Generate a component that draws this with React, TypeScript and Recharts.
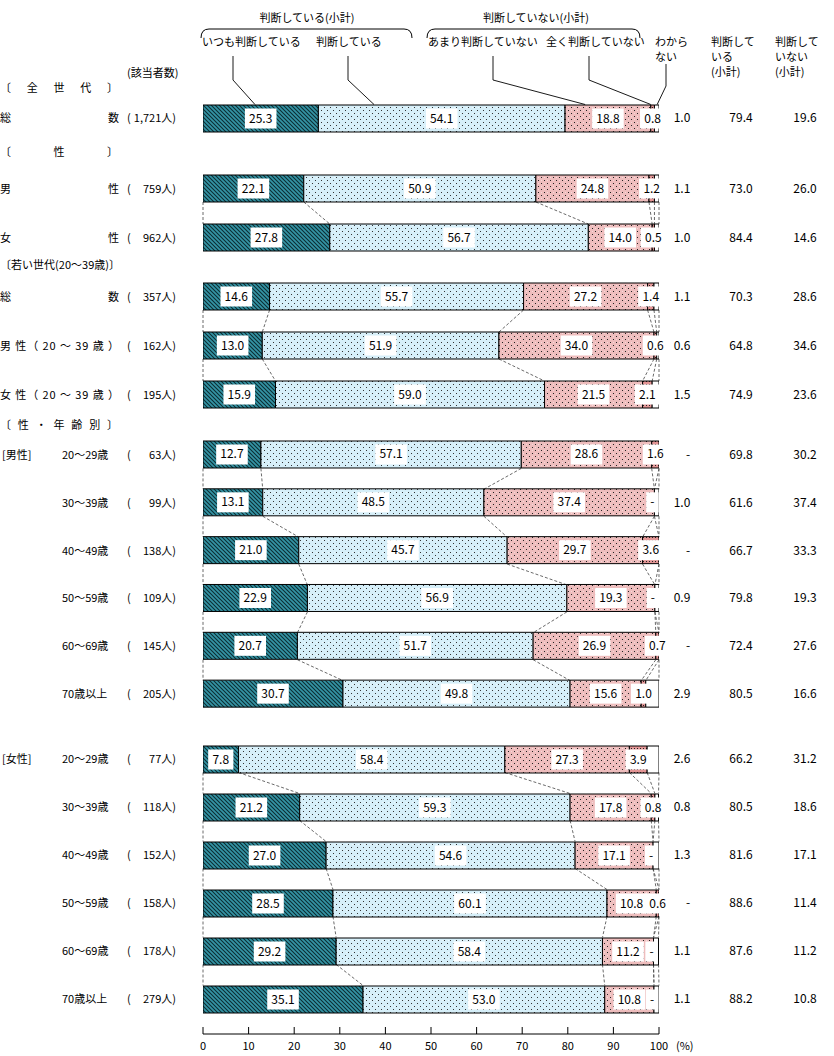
import React from 'react';
import * as R from 'recharts';

const { BarChart, Bar, XAxis, YAxis, LabelList } = R;
// plot area hook (recharts 3); fall back to the known layout if missing
const usePlot: () => any = (R as any).usePlotArea || (() => null);

const FONT = "'Noto Sans CJK JP', 'Noto Sans CJK SC', sans-serif";
const FS = 11;
const PLOT_LEFT = 203;
const PLOT_W = 456;
const BAR = 27;

// ---- data ----
const rowLabels = [
  '総数', '男性', '女性',
  '総数', '男 性（ 20 ～ 39 歳 ）', '女 性（ 20 ～ 39 歳 ）',
  '20～29歳', '30～39歳', '40～49歳', '50～59歳', '60～69歳', '70歳以上',
  '20～29歳', '30～39歳', '40～49歳', '50～59歳', '60～69歳', '70歳以上',
];
const counts = ['1,721', '759', '962', '357', '162', '195', '63', '99', '138', '109', '145', '205', '77', '118', '152', '158', '178', '279'];
const itsumo = [25.3, 22.1, 27.8, 14.6, 13.0, 15.9, 12.7, 13.1, 21.0, 22.9, 20.7, 30.7, 7.8, 21.2, 27.0, 28.5, 29.2, 35.1];
const handan = [54.1, 50.9, 56.7, 55.7, 51.9, 59.0, 57.1, 48.5, 45.7, 56.9, 51.7, 49.8, 58.4, 59.3, 54.6, 60.1, 58.4, 53.0];
const amari = [18.8, 24.8, 14.0, 27.2, 34.0, 21.5, 28.6, 37.4, 29.7, 19.3, 26.9, 15.6, 27.3, 17.8, 17.1, 10.8, 11.2, 10.8];
const mattaku = [0.8, 1.2, 0.5, 1.4, 0.6, 2.1, 1.6, 0, 3.6, 0, 0.7, 1.0, 3.9, 0.8, 0, 0.6, 0, 0];
const wakaranai = [1.0, 1.1, 1.0, 1.1, 0.6, 1.5, 0, 1.0, 0, 0.9, 0, 2.9, 2.6, 0.8, 1.3, 0, 1.1, 1.1];
const subYes = [79.4, 73.0, 84.4, 70.3, 64.8, 74.9, 69.8, 61.6, 66.7, 79.8, 72.4, 80.5, 66.2, 80.5, 81.6, 88.6, 87.6, 88.2];
const subNo = [19.6, 26.0, 14.6, 28.6, 34.6, 23.6, 30.2, 37.4, 33.3, 19.3, 27.6, 16.6, 31.2, 18.6, 17.1, 11.4, 11.2, 10.8];

const groupStarts = [0, 1, 3, 6, 12, 18];
const sectionHeaders = ['〔全世代〕', '〔性〕', '〔若い世代(20～39歳)〕', '〔性・年齢別〕'];
const tagRows = [6, 12];
const tagTexts = ['[男性]', '[女性]'];
const xTicks = [0, 10, 20, 30, 40, 50, 60, 70, 80, 90, 100];

// ---- layout ----
const GROUP_TOP = [94, 164, 272, 431, 735];
const GROUP_BAND = [48, 49, 49, 47.83, 48];
const HEADER_Y = [88, 152, 265, 425];
const HEADER_W = [118, 118, 120, 118];

const SERIES = [
  { key: 'itsumo', fill: 'url(#pHatch)', label: true },
  { key: 'handan', fill: 'url(#pBlue)', label: true },
  { key: 'amari', fill: 'url(#pPink)', label: true },
  { key: 'mattaku', fill: 'url(#pRed)', label: true },
  { key: 'wakaranai', fill: '#ffffff', label: false },
];

const groups = GROUP_TOP.map((top, g) => {
  const rows = [];
  for (let i = groupStarts[g]; i < groupStarts[g + 1]; i++) {
    rows.push({
      key: String(i),
      itsumo: itsumo[i],
      handan: handan[i],
      amari: amari[i],
      mattaku: mattaku[i],
      wakaranai: wakaranai[i],
    });
  }
  return { top, band: GROUP_BAND[g], rows };
});

const fmt = (v: number) => (v === 0 ? '-' : v.toFixed(1));
const txt = { fontFamily: FONT, fontSize: FS, fill: '#000' };
const num = { fontFamily: FONT, fontSize: 12, fill: '#000' };

const ValueBox = ({ cx, cy, value }: { cx: number; cy: number; value: number }) => {
  const s = fmt(value);
  const w = s.length * 6.4 + 6;
  return (
    <g>
      <rect x={cx - w / 2} y={cy - 10} width={w} height={20} fill="#fff" />
      <text x={cx} y={cy + 4} textAnchor="middle" style={num}>{s}</text>
    </g>
  );
};

// label for a segment; also puts a "-" box at its right end when the next
// labelled series is zero there (zero-width bars get no label of their own)
const makeSegLabel = (rows: any[], nextKey: string | null) => (props: any) => {
  const { x, y, width, height, value, index } = props;
  const cy = Number(y) + Number(height) / 2;
  const end = Number(x) + Number(width);
  const nextZero = nextKey && rows[index] && rows[index][nextKey] === 0;
  return (
    <g>
      <ValueBox cx={Number(x) + Number(width) / 2} cy={cy} value={Number(value)} />
      {nextZero && <ValueBox cx={end - 2} cy={cy} value={0} />}
    </g>
  );
};

const LeftTick = (props: any) => {
  const { y, payload } = props;
  const i = Number(payload.value);
  const t = tagRows.indexOf(i);
  return (
    <g>
      {i < 6 ? (
        <text x={0} y={y + 4} textLength={119} lengthAdjust="spacing" style={txt}>{rowLabels[i]}</text>
      ) : (
        <text x={62} y={y + 4} style={txt}>{rowLabels[i]}</text>
      )}
      {t >= 0 && <text x={2} y={y + 4} style={txt}>{tagTexts[t]}</text>}
      <text x={127} y={y + 4} style={txt}>(</text>
      <text x={176} y={y + 4} textAnchor="end" style={txt}>{counts[i] + '人)'}</text>
    </g>
  );
};

const RightTick = (props: any) => {
  const { y, payload } = props;
  const i = Number(payload.value);
  return (
    <g>
      <text x={wakaranai[i] === 0 ? 688 : 682} y={y + 4} textAnchor="middle" style={num}>{fmt(wakaranai[i])}</text>
      <text x={741} y={y + 4} textAnchor="middle" style={num}>{fmt(subYes[i])}</text>
      <text x={805} y={y + 4} textAnchor="middle" style={num}>{fmt(subNo[i])}</text>
    </g>
  );
};

const AxisTick = (props: any) => {
  const { x, y, payload } = props;
  return (
    <g>
      <line x1={x} x2={x} y1={y + 4} y2={y + 11} stroke="#000" />
      <text x={x} y={y + 27} textAnchor="middle" style={txt}>{payload.value}</text>
      {payload.value === 100 && <text x={x + 17} y={y + 27} style={txt}>(%)</text>}
    </g>
  );
};

const bounds = (r: any) => {
  const out = [0];
  let acc = 0;
  SERIES.forEach((s) => {
    acc += r[s.key];
    out.push(Math.min(acc, 100));
  });
  return out;
};

// dashed connectors between neighbouring bars, bottom axis line
const Connectors = ({ rows, plotH, axis }: { rows: any[]; plotH: number; axis: boolean }) => {
  const p = usePlot();
  const left = p ? (p.x ?? p.left) : PLOT_LEFT;
  const top = p ? (p.y ?? p.top) : 0;
  const width = p ? p.width : PLOT_W;
  const height = p ? p.height : plotH;
  const band = height / rows.length;
  const toX = (v: number) => left + (v / 100) * width;
  const lines = [];
  for (let k = 0; k < rows.length - 1; k++) {
    const a = bounds(rows[k]);
    const b = bounds(rows[k + 1]);
    const y1 = top + band * (k + 0.5) + BAR / 2;
    const y2 = top + band * (k + 1.5) - BAR / 2;
    a.forEach((v, j) => {
      lines.push(
        <line key={`${k}-${j}`} x1={toX(v)} y1={y1} x2={toX(b[j])} y2={y2} stroke="#444" strokeWidth={0.8} strokeDasharray="3 2" />
      );
    });
  }
  return (
    <g>
      {lines}
      {axis && <line x1={left} x2={left + width} y1={top + height + 11} y2={top + height + 11} stroke="#000" />}
    </g>
  );
};

const GroupChart = ({ g }: { g: number }) => {
  const { top, band, rows } = groups[g];
  const last = g === groups.length - 1;
  const plotH = band * rows.length;
  const h = plotH + (last ? 40 : 0);
  return (
    <div style={{ position: 'absolute', left: 0, top }}>
      <BarChart width={834} height={h} data={rows} layout="vertical" margin={{ top: 0, right: 0, bottom: 0, left: 0 }}>
        <XAxis
          type="number"
          domain={[0, 100]}
          allowDataOverflow
          ticks={xTicks}
          interval={0}
          hide={!last}
          height={40}
          axisLine={false}
          tickLine={false}
          tickSize={0}
          tickMargin={0}
          tick={AxisTick}
        />
        <YAxis yAxisId="l" type="category" dataKey="key" width={203} axisLine={false} tickLine={false} tickSize={0} tickMargin={0} interval={0} tick={LeftTick} />
        <YAxis yAxisId="r" orientation="right" type="category" dataKey="key" width={175} axisLine={false} tickLine={false} tickSize={0} tickMargin={0} interval={0} tick={RightTick} />
        {SERIES.map((s, j) => {
          const next = SERIES[j + 1] && SERIES[j + 1].label ? SERIES[j + 1].key : null;
          return (
            <Bar key={s.key} yAxisId="l" dataKey={s.key} stackId="s" fill={s.fill} stroke="#000" strokeWidth={1} barSize={BAR} isAnimationActive={false}>
              {s.label && <LabelList dataKey={s.key} content={makeSegLabel(rows, next)} />}
            </Bar>
          );
        })}
        <Connectors rows={rows} plotH={plotH} axis={last} />
      </BarChart>
    </div>
  );
};

const LEADERS = [
  { x0: 233, pct: 11.4, y0: 56, yb: 80 },
  { x0: 348, pct: 37.5, y0: 56, yb: 80 },
  { x0: 493, pct: 83.8, y0: 56, yb: 80 },
  { x0: 589, pct: 98.2, y0: 56, yb: 80 },
  { x0: 666, pct: 99.6, y0: 64, yb: 86 },
];

const Overlay = () => {
  const barTop = GROUP_TOP[0] + GROUP_BAND[0] / 2 - BAR / 2;
  return (
    <svg width={834} height={1056} style={{ position: 'absolute', left: 0, top: 0 }}>
      <defs>
        <pattern id="pHatch" width="4" height="4" patternUnits="userSpaceOnUse">
          <rect width="4" height="4" fill="#3494a5" />
          <path d="M-1,-1 L5,5 M-1,3 L1,5 M3,-1 L5,1" stroke="#0b2d33" strokeWidth="1.1" />
        </pattern>
        <pattern id="pBlue" width="6" height="6" patternUnits="userSpaceOnUse">
          <rect width="6" height="6" fill="#d6eff9" />
          <rect x="0" y="1" width="1" height="1" fill="#333" />
          <rect x="3" y="4" width="1" height="1" fill="#333" />
          <rect x="4" y="1" width="1" height="1" fill="#eef9fd" />
        </pattern>
        <pattern id="pPink" width="6" height="6" patternUnits="userSpaceOnUse">
          <rect width="6" height="6" fill="#eebdbd" />
          <rect x="1" y="1" width="1" height="1" fill="#222" />
          <rect x="4" y="4" width="1" height="1" fill="#222" />
          <rect x="4" y="1" width="1" height="1" fill="#f7dada" />
          <rect x="1" y="4" width="1" height="1" fill="#f7dada" />
        </pattern>
        <pattern id="pRed" width="3" height="3" patternUnits="userSpaceOnUse">
          <rect width="3" height="3" fill="#e39595" />
          <rect x="1" y="1" width="1" height="1" fill="#222" />
        </pattern>
      </defs>

      <text x={307} y={22} textAnchor="middle" style={txt}>判断している(小計)</text>
      <text x={536} y={22} textAnchor="middle" style={txt}>判断していない(小計)</text>
      <path d="M201,38 Q201,29 209,29 L404,29 Q412,29 412,38" fill="none" stroke="#000" />
      <path d="M427,38 Q427,29 435,29 L632,29 Q640,29 640,38" fill="none" stroke="#000" />

      <text x={202} y={46} style={txt}>いつも判断している</text>
      <text x={316} y={46} style={txt}>判断している</text>
      <text x={428} y={46} style={txt}>あまり判断していない</text>
      <text x={546} y={46} style={txt}>全く判断していない</text>
      <text x={655} y={46} style={txt}>わから</text>
      <text x={655} y={61} style={txt}>ない</text>
      <text x={711} y={46} style={txt}>判断して</text>
      <text x={711} y={61} style={txt}>いる</text>
      <text x={711} y={76} style={txt}>(小計)</text>
      <text x={775} y={46} style={txt}>判断して</text>
      <text x={775} y={61} style={txt}>いない</text>
      <text x={775} y={76} style={txt}>(小計)</text>
      <text x={127} y={77} style={txt}>(該当者数)</text>

      {LEADERS.map((l, i) => (
        <polyline
          key={i}
          points={`${l.x0},${l.y0} ${l.x0},${l.yb} ${PLOT_LEFT + (l.pct / 100) * PLOT_W},${barTop}`}
          fill="none"
          stroke="#000"
          strokeWidth={0.9}
        />
      ))}

      {sectionHeaders.map((s, i) => (
        <text key={s} x={0} y={HEADER_Y[i] + 4} textLength={HEADER_W[i]} lengthAdjust="spacing" style={txt}>{s}</text>
      ))}
    </svg>
  );
};

export default function App() {
  return (
    <div style={{ position: 'absolute', left: 0, top: 0, width: 834, height: 1056, background: '#fff', fontFamily: FONT }}>
      <Overlay />
      {groups.map((_, g) => (
        <GroupChart key={g} g={g} />
      ))}
    </div>
  );
}
